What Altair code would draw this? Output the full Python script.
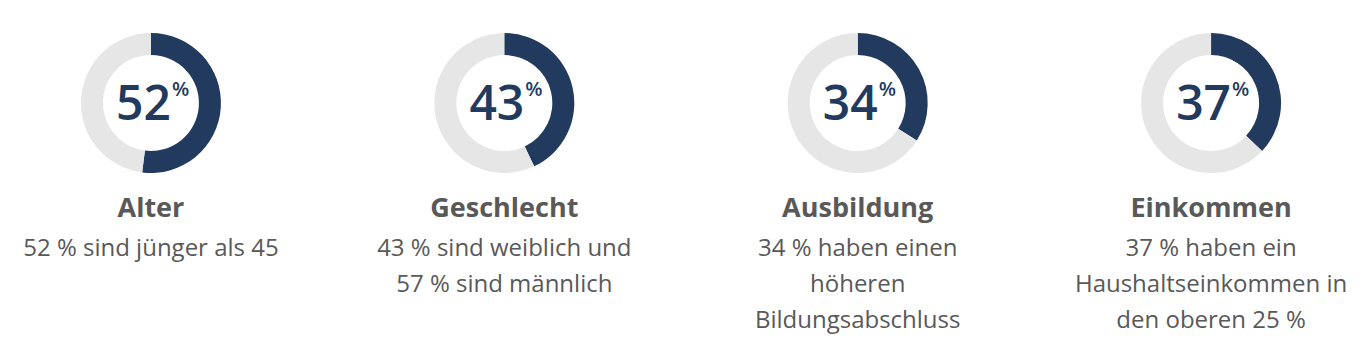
import altair as alt
import pandas as pd

categories = ["Alter", "Geschlecht", "Ausbildung", "Einkommen"]
values = [52, 43, 34, 37]
descriptions = [
    "52 % sind jünger als 45",
    "43 % sind weiblich und\n57 % sind männlich",
    "34 % haben einen\nhöheren\nBildungsabschluss",
    "37 % haben ein\nHaushaltseinkommen in\nden oberen 25 %",
]

NAVY = "#213A5E"
LIGHT = "#E6E6E6"
GREY = "#595959"
FONT = "Open Sans"

arc_rows = []
for c, v in zip(categories, values):
    arc_rows.append({"cat": c, "part": "share", "start": 0, "end": v})
    arc_rows.append({"cat": c, "part": "rest", "start": v, "end": 100})
arcs_df = pd.DataFrame(arc_rows)

text_df = pd.DataFrame({
    "cat": categories,
    "num": [str(v) for v in values],
    "desc": descriptions,
})

xenc = alt.X("cat:N", scale=alt.Scale(type="point", domain=categories, padding=0.4045), axis=None)

arcs = alt.Chart(arcs_df).mark_arc(innerRadius=48, outerRadius=70).encode(
    x=xenc,
    y=alt.value(95),
    theta=alt.Theta("start:Q", scale=alt.Scale(domain=[0, 100], range=[0, 6.283185307179586])),
    theta2="end:Q",
    color=alt.Color("part:N", scale=alt.Scale(domain=["share", "rest"], range=[NAVY, LIGHT]), legend=None),
)

base = alt.Chart(text_df)

num = base.mark_text(align="right", baseline="alphabetic", dx=20, font=FONT,
                     fontSize=48, fontWeight=600, color=NAVY).encode(
    x=xenc, y=alt.value(112), text="num:N")

pct = base.mark_text(align="left", baseline="alphabetic", dx=21, font=FONT,
                     fontSize=20, fontWeight=600, color=NAVY).encode(
    x=xenc, y=alt.value(88), text=alt.value("%"))

title = base.mark_text(align="center", baseline="alphabetic", font=FONT,
                       fontSize=27, fontWeight="bold", color=GREY).encode(
    x=xenc, y=alt.value(209), text="cat:N")

desc = base.mark_text(align="center", baseline="alphabetic", font=FONT,
                      fontSize=24, color=GREY, lineBreak="\n", lineHeight=36).encode(
    x=xenc, y=alt.value(248), text="desc:N")

chart = alt.layer(arcs, num, pct, title, desc).properties(
    width=1346, height=340, padding=0
).configure_view(stroke=None)

chart.save("out.html", embed_options={"renderer": "svg", "actions": False})
